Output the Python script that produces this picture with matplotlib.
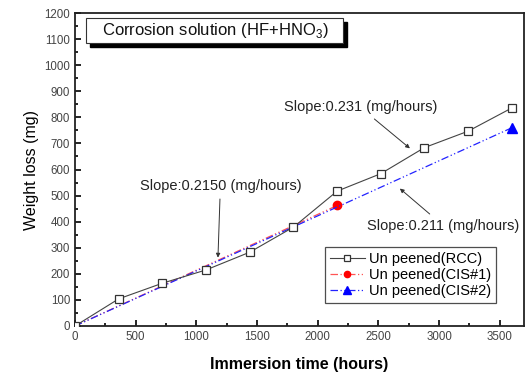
import matplotlib
matplotlib.use("Agg")
import matplotlib.pyplot as plt
from matplotlib.ticker import MultipleLocator
from matplotlib.patches import Rectangle

plt.rcParams['font.family'] = ['Liberation Sans', 'DejaVu Sans']

# Data
rcc_x = [0, 360, 720, 1080, 1440, 1800, 2160, 2520, 2880, 3240, 3600]
rcc_y = [0, 104, 164, 215, 283, 379, 517, 584, 684, 747, 836]
cis1_x = [0, 2160]
cis1_y = [0, 462]
cis2_x = [0, 3600]
cis2_y = [0, 760]

fig = plt.figure(figsize=(5.29, 3.76), dpi=100)
ax = fig.add_axes([0.1418, 0.133, 0.8487, 0.8324])

ax.plot(rcc_x, rcc_y, color='#444444', lw=0.8, marker='s', ms=6,
        mfc='white', mec='#333333', mew=0.9, label='Un peened(RCC)', zorder=3)
ax.plot(cis1_x, cis1_y, color='#ff5555', lw=0.9, ls=(0, (6, 2, 1, 2, 1, 2)),
        marker='o', ms=6, mfc='red', mec='red', markevery=[1],
        label='Un peened(CIS#1)', zorder=2)
ax.plot(cis2_x, cis2_y, color='#2222ff', lw=0.9, ls=(0, (6, 2, 1, 2, 1, 2)),
        marker='^', ms=7, mfc='blue', mec='blue', markevery=[1],
        label='Un peened(CIS#2)', zorder=2)

ax.set_xlim(0, 3700)
ax.set_ylim(0, 1200)
ax.xaxis.set_major_locator(MultipleLocator(500))
ax.xaxis.set_minor_locator(MultipleLocator(250))
ax.yaxis.set_major_locator(MultipleLocator(100))
ax.yaxis.set_minor_locator(MultipleLocator(50))
ax.tick_params(which='both', direction='in', top=False, right=False,
               labelsize=8.3, labelcolor='#444444', width=1.2)
ax.tick_params(which='major', length=4)
ax.tick_params(which='minor', length=2.5)
for s in ax.spines.values():
    s.set_linewidth(1.3)
    s.set_color('#222222')

ax.set_xlabel('Immersion time (hours)', fontsize=11.5, fontweight='bold', labelpad=10)
ax.set_ylabel('Weight loss (mg)', fontsize=11.5, labelpad=4)

# Title box with shadow
fig.patches.append(Rectangle((90/529, 1 - 47/376), 257/529, 25/376,
                             transform=fig.transFigure, facecolor='black',
                             edgecolor='black', zorder=5))
fig.patches.append(Rectangle((86/529, 1 - 43/376), 257/529, 25/376,
                             transform=fig.transFigure, facecolor='white',
                             edgecolor='#333333', lw=0.8, zorder=6))
fig.text(215/529, 1 - 30.5/376, r'Corrosion solution (HF+HNO$_\mathregular{3}$)',
         ha='center', va='center', fontsize=12, color='#111111', zorder=7)

# Annotations
ann_kw = dict(arrowprops=dict(arrowstyle='-|>', color='#333333', lw=0.7,
                              mutation_scale=6, shrinkA=2, shrinkB=0),
              fontsize=10.5, color='#222222', ha='center', va='center')
ax.annotate('Slope:0.2150 (mg/hours)', xy=(1178, 262), xytext=(1198, 535), **ann_kw)
ax.annotate('Slope:0.231 (mg/hours)', xy=(2760, 681), xytext=(2352, 838), **ann_kw)
ax.annotate('Slope:0.211 (mg/hours)', xy=(2677, 527), xytext=(3035, 385), **ann_kw)

leg = ax.legend(loc='lower right', bbox_to_anchor=(0.955, 0.05), fontsize=10.5,
                frameon=True, fancybox=False, handlelength=2.4, markerscale=0.75,
                borderpad=0.35, labelspacing=0.12, handletextpad=0.3)
leg.get_frame().set_edgecolor('#222222')
leg.get_frame().set_linewidth(0.9)

fig.savefig('out.png', dpi=100)
